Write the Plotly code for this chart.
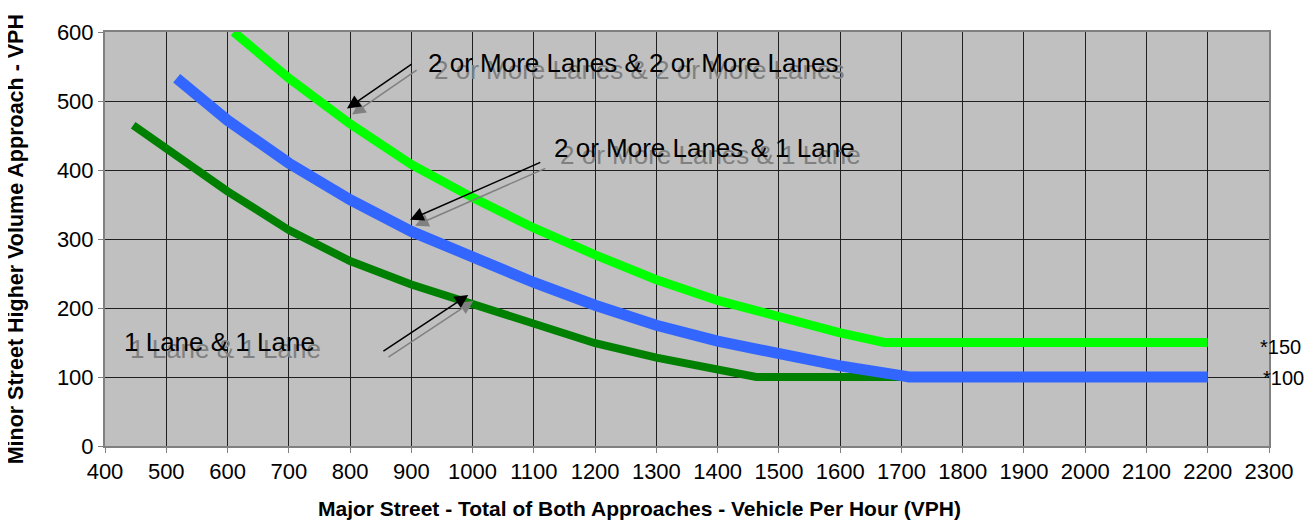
import plotly.graph_objects as go

# Data
two_two_x = [610, 700, 800, 900, 1000, 1100, 1200, 1300, 1400, 1500, 1600, 1672, 2200]
two_two_y = [600, 533, 467, 408, 360, 316, 277, 241, 211, 186, 164, 150, 150]

two_one_x = [517, 600, 700, 800, 900, 1000, 1100, 1200, 1300, 1400, 1500, 1600, 1700, 1712, 2200]
two_one_y = [533, 472, 410, 357, 311, 272, 237, 204, 175, 152, 133, 116, 102, 100, 100]

one_one_x = [446, 500, 600, 700, 800, 900, 1000, 1100, 1200, 1300, 1400, 1463, 1700]
one_one_y = [465, 431, 369, 313, 268, 234, 205, 175, 149, 128, 111, 100, 100]

x_ticks = list(range(400, 2301, 100))
y_ticks = list(range(0, 601, 100))

FONT = "Liberation Sans, Arial, sans-serif"

fig = go.Figure()
fig.add_trace(go.Scatter(x=one_one_x, y=one_one_y, mode="lines",
                         line=dict(color="#008000", width=8), name="1 Lane & 1 Lane"))
fig.add_trace(go.Scatter(x=two_one_x, y=two_one_y, mode="lines",
                         line=dict(color="#3366FF", width=11), name="2 or More Lanes & 1 Lane"))
fig.add_trace(go.Scatter(x=two_two_x, y=two_two_y, mode="lines",
                         line=dict(color="#00FF00", width=9), name="2 or More Lanes & 2 or More Lanes"))

annotations = []

def label(text, x, y):
    # shadow
    annotations.append(dict(x=x, y=y, xref="x", yref="y", text=text, showarrow=False,
                            xanchor="left", yanchor="middle", xshift=6, yshift=-7,
                            font=dict(family=FONT, size=26, color="#808080")))
    annotations.append(dict(x=x, y=y, xref="x", yref="y", text=text, showarrow=False,
                            xanchor="left", yanchor="middle",
                            font=dict(family=FONT, size=26, color="#000000")))

def arrow(tail, head):
    for color, xs, ys in (("#808080", 5, -6), ("#000000", 0, 0)):
        annotations.append(dict(x=head[0], y=head[1], ax=tail[0], ay=tail[1],
                                xref="x", yref="y", axref="x", ayref="y", text="",
                                showarrow=True, arrowhead=2, arrowsize=1.8, arrowwidth=1.5,
                                arrowcolor=color, standoff=0, startstandoff=0,
                                xshift=xs, yshift=ys))

label("2 or More Lanes & 2 or More Lanes", 924, 555)
label("2 or More Lanes & 1 Lane", 1130, 432)
label("1 Lane & 1 Lane", 428, 151)
arrow((903, 555), (795, 489))
arrow((1113, 412), (898, 328))
arrow((852, 136), (993, 219))

annotations.append(dict(x=0.9906, y=144, xref="paper", yref="y", text="*150", showarrow=False,
                        xanchor="left", yanchor="middle", font=dict(family=FONT, size=20, color="#000")))
annotations.append(dict(x=0.9932, y=99, xref="paper", yref="y", text="*100", showarrow=False,
                        xanchor="left", yanchor="middle", font=dict(family=FONT, size=20, color="#000")))

# axis titles (placed as in the reference)
annotations.append(dict(x=0.4596, y=-0.152, xref="paper", yref="paper",
                        text="<b>Major Street - Total of Both Approaches - Vehicle Per Hour (VPH)</b>",
                        showarrow=False, xanchor="center", yanchor="middle",
                        font=dict(family=FONT, size=21, color="#000")))
annotations.append(dict(x=-0.0765, y=0.499, xref="paper", yref="paper",
                        text="<b>Minor Street Higher Volume Approach - VPH</b>", textangle=-90,
                        showarrow=False, xanchor="center", yanchor="middle", borderpad=0,
                        font=dict(family=FONT, size=21.5, color="#000")))

fig.update_layout(
    width=1315, height=524,
    margin=dict(l=97, r=54, t=24, b=86),
    paper_bgcolor="white",
    plot_bgcolor="#C0C0C0",
    showlegend=False,
    font=dict(family=FONT, size=22, color="#000"),
    annotations=annotations,
    xaxis=dict(range=[400, 2300], tickmode="array", tickvals=x_ticks,
               ticktext=[str(v) for v in x_ticks],
               showgrid=True, gridcolor="#202020", gridwidth=1,
               showline=True, linecolor="#808080", linewidth=2, mirror=True,
               ticks="outside", ticklen=5, tickcolor="#808080", zeroline=False),
    yaxis=dict(range=[0, 600], tickmode="array", tickvals=y_ticks,
               ticktext=[str(v) for v in y_ticks],
               showgrid=True, gridcolor="#202020", gridwidth=1,
               showline=True, linecolor="#808080", linewidth=2, mirror=True,
               ticks="outside", ticklen=5, tickcolor="#808080", zeroline=False),
)

fig.write_html("out.html")
